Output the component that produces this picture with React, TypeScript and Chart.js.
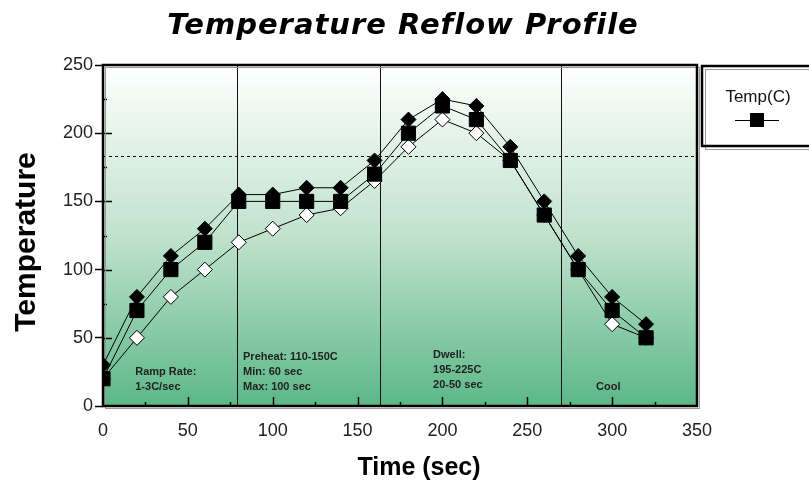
import React, { useEffect, useRef } from "react";
import { Chart, registerables } from "chart.js";

Chart.register(...registerables);

// ---- data ----
const timeSec = [0, 20, 40, 60, 80, 100, 120, 140, 160, 180, 200, 220, 240, 260, 280, 300, 320];
const upperTemps = [30, 80, 110, 130, 155, 155, 160, 160, 180, 210, 225, 220, 190, 150, 110, 80, 60];
const tempC = [20, 70, 100, 120, 150, 150, 150, 150, 170, 200, 220, 210, 180, 140, 100, 70, 50];
const lowerTemps = [20, 50, 80, 100, 120, 130, 140, 145, 165, 190, 210, 200, 180, 140, 100, 60, 50];
const zoneEdges = [79, 163, 270];
const limitTemp = 183;
const rampText = ["Ramp Rate:", "1-3C/sec"];
const preheatText = ["Preheat: 110-150C", "Min: 60 sec", "Max: 100 sec"];
const dwellText = ["Dwell:", "195-225C", "20-50 sec"];
const coolText = ["Cool"];
const chartTitle = "Temperature Reflow Profile";
const xTitle = "Time (sec)";
const yTitle = "Temperature";
const legendLabel = "Temp(C)";

const FONT = "'Liberation Sans', Arial, sans-serif";

const toPoints = (ys: number[]) => timeSec.map((x, i) => ({ x, y: ys[i] }));

export default function App() {
  const ref = useRef<HTMLCanvasElement>(null);

  useEffect(() => {
    const canvas = ref.current!;

    const decor = {
      id: "decor",
      beforeDatasetsDraw(chart: any) {
        const { ctx, chartArea: a, scales } = chart;
        const xs = scales.x;
        const ys = scales.y;
        ctx.save();
        // gradient background
        const g = ctx.createLinearGradient(0, a.top, 0, a.bottom);
        g.addColorStop(0, "#ffffff");
        g.addColorStop(0.5, "#c0e2cd");
        g.addColorStop(1, "#5cb888");
        ctx.fillStyle = g;
        ctx.fillRect(a.left, a.top, a.right - a.left, a.bottom - a.top);

        // zone lines
        ctx.strokeStyle = "#111";
        ctx.lineWidth = 1;
        zoneEdges.forEach((v) => {
          const px = Math.round(xs.getPixelForValue(v)) + 0.5;
          ctx.beginPath();
          ctx.moveTo(px, a.top);
          ctx.lineTo(px, a.bottom);
          ctx.stroke();
        });
        // dotted limit line
        const py = Math.round(ys.getPixelForValue(limitTemp)) + 0.5;
        ctx.setLineDash([3, 3]);
        ctx.beginPath();
        ctx.moveTo(a.left, py);
        ctx.lineTo(a.right, py);
        ctx.stroke();
        ctx.setLineDash([]);

        // inner ticks
        ctx.strokeStyle = "#000";
        ctx.lineWidth = 1.5;
        for (let v = 25; v < 350; v += 25) {
          const px = Math.round(xs.getPixelForValue(v)) + 0.5;
          const len = v % 50 === 0 ? 9 : 4;
          ctx.beginPath();
          ctx.moveTo(px, a.bottom);
          ctx.lineTo(px, a.bottom - len);
          ctx.stroke();
        }
        for (let v = 25; v < 250; v += 25) {
          const p = Math.round(ys.getPixelForValue(v)) + 0.5;
          const len = v % 50 === 0 ? 9 : 4;
          ctx.beginPath();
          ctx.moveTo(a.left, p);
          ctx.lineTo(a.left + len, p);
          ctx.stroke();
        }

        // zone notes
        ctx.fillStyle = "#222";
        ctx.font = `bold 11px ${FONT}`;
        ctx.textBaseline = "middle";
        ctx.textAlign = "left";
        const lineAt = (lines: string[], xv: number, yTopPx: number) => {
          const px = xs.getPixelForValue(xv);
          lines.forEach((t, i) => ctx.fillText(t, px, yTopPx + i * 15));
        };
        lineAt(rampText, 19, a.bottom - 34);
        lineAt(preheatText, 82.5, a.bottom - 49);
        lineAt(dwellText, 194.5, a.bottom - 51);
        lineAt(coolText, 290.5, a.bottom - 19);

        // frame
        ctx.strokeStyle = "#9a9a9a";
        ctx.lineWidth = 1;
        ctx.strokeRect(a.left + 2.5, a.top + 2.5, a.right - a.left, a.bottom - a.top);
        ctx.strokeStyle = "#000";
        ctx.lineWidth = 2.5;
        ctx.strokeRect(a.left, a.top, a.right - a.left, a.bottom - a.top);
        ctx.restore();
      },
      afterDraw(chart: any) {
        const { ctx } = chart;
        ctx.save();
        // title
        ctx.fillStyle = "#000";
        ctx.textAlign = "center";
        ctx.textBaseline = "alphabetic";
        ctx.font = `italic bold 29px 'DejaVu Sans', sans-serif`;
        (ctx as any).letterSpacing = "1px";
        ctx.fillText(chartTitle, 403, 34);
        (ctx as any).letterSpacing = "0px";

        // axis titles
        ctx.font = `bold 25px ${FONT}`;
        ctx.textBaseline = "middle";
        ctx.fillText(xTitle, 419, 468);
        ctx.save();
        ctx.translate(27, 242);
        ctx.rotate(-Math.PI / 2);
        ctx.font = `bold 30px ${FONT}`;
        ctx.fillText(yTitle, 0, 0);
        ctx.restore();

        // legend box
        const lx = 702, ly = 66, lw = 112, lh = 80;
        ctx.strokeStyle = "#9a9a9a";
        ctx.lineWidth = 1;
        ctx.strokeRect(lx + 3.5, ly + 3.5, lw, lh);
        ctx.strokeStyle = "#000";
        ctx.lineWidth = 2.5;
        ctx.strokeRect(lx, ly, lw, lh);
        ctx.fillStyle = "#111";
        ctx.font = `17px ${FONT}`;
        ctx.textAlign = "center";
        ctx.fillText(legendLabel, 758, 97);
        ctx.strokeStyle = "#000";
        ctx.lineWidth = 1;
        ctx.beginPath();
        ctx.moveTo(735, 120.5);
        ctx.lineTo(779, 120.5);
        ctx.stroke();
        ctx.fillStyle = "#000";
        ctx.fillRect(750, 113, 14, 14);
        ctx.restore();
      },
    };

    const chart = new Chart(canvas, {
      type: "line",
      data: {
        datasets: [
          {
            label: "Low",
            data: toPoints(lowerTemps),
            borderColor: "#000",
            borderWidth: 1,
            pointStyle: "rectRot",
            pointRadius: 7.5,
            pointBackgroundColor: "#fff",
            pointBorderColor: "#000",
            pointBorderWidth: 1,
            tension: 0,
            order: 3,
          },
          {
            label: "High",
            data: toPoints(upperTemps),
            borderColor: "#000",
            borderWidth: 1,
            pointStyle: "rectRot",
            pointRadius: 7.5,
            pointBackgroundColor: "#000",
            pointBorderColor: "#000",
            pointBorderWidth: 1,
            tension: 0,
            order: 2,
          },
          {
            label: legendLabel,
            data: toPoints(tempC),
            borderColor: "#000",
            borderWidth: 1,
            pointStyle: "rect",
            pointRadius: 10,
            pointBackgroundColor: "#000",
            pointBorderColor: "#000",
            pointBorderWidth: 1,
            tension: 0,
            order: 1,
          },
        ],
      },
      options: {
        animation: false,
        responsive: false,
        maintainAspectRatio: false,
        layout: { padding: { top: 65, right: 112, left: 0, bottom: 0 } },
        plugins: {
          legend: { display: false },
          title: { display: false },
          tooltip: { enabled: false },
        },
        scales: {
          x: {
            type: "linear",
            min: 0,
            max: 350,
            ticks: { stepSize: 50, padding: 6, color: "#222", font: { family: FONT, size: 18 } },
            grid: { display: false },
            border: { display: false },
            afterFit: (s: any) => {
              s.height = 78;
            },
          },
          y: {
            type: "linear",
            min: 0,
            max: 250,
            ticks: { stepSize: 50, padding: 2, color: "#222", font: { family: FONT, size: 18 } },
            grid: { display: true, drawOnChartArea: false, tickLength: 8, tickColor: "#000", tickWidth: 1.5 },
            border: { display: false },
            afterFit: (s: any) => {
              s.width = 103;
            },
          },
        },
      },
      plugins: [decor],
    } as any);

    return () => chart.destroy();
  }, []);

  return (
    <div style={{ position: "fixed", left: 0, top: 0, width: 809, height: 484, background: "#fff" }}>
      <canvas ref={ref} width={809} height={484} style={{ display: "block", width: 809, height: 484 }} />
    </div>
  );
}
